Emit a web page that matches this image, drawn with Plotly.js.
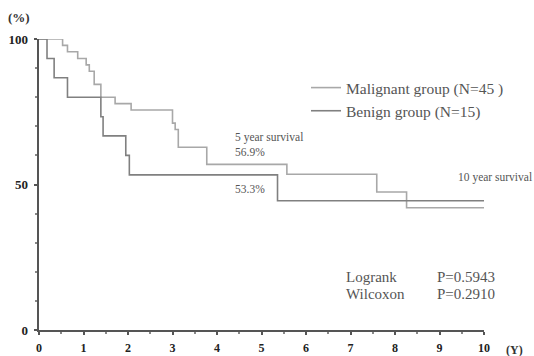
<!DOCTYPE html>
<html>
<head>
<meta charset="utf-8">
<script src="https://cdn.plot.ly/plotly-3.0.1.min.js"></script>
<style>html,body{margin:0;padding:0;background:#fff;}#chart{width:534px;height:356px;}</style>
</head>
<body>
<div id="chart"></div>
<script>
// Data (years, survival %)
const malignantTimes = [0, 0.53, 0.64, 0.87, 1.06, 1.13, 1.24, 1.39, 1.71, 2.07, 3.0, 3.06, 3.13, 3.77, 5.57, 7.59, 8.26, 10];
const malignantSurv  = [100, 97.8, 95.6, 93.3, 91.1, 88.9, 84.4, 80.0, 77.8, 75.6, 71.1, 68.9, 62.8, 56.9, 53.5, 47.4, 42.0, 42.0];
const benignTimes = [0, 0.18, 0.34, 0.64, 1.39, 1.44, 1.95, 2.03, 5.36, 10];
const benignSurv  = [100, 93.3, 86.7, 80.0, 73.3, 66.7, 60.0, 53.3, 44.4, 44.4];
const seriesNames = ['Malignant group (N=45 )', 'Benign group (N=15)'];
const xTicks = [0,1,2,3,4,5,6,7,8,9,10];
const yTicks = [0,50,100];

const serif = 'Liberation Serif, Times New Roman, serif';

const traces = [
  {x: malignantTimes, y: malignantSurv, name: seriesNames[0], mode: 'lines',
   line: {shape: 'hv', color: '#a8a8a8', width: 1.6}},
  {x: benignTimes, y: benignSurv, name: seriesNames[1], mode: 'lines',
   line: {shape: 'hv', color: '#808080', width: 1.6}}
];

const annFont = {family: serif, size: 11.5, color: '#555'};
const bigFont = {family: serif, size: 15, color: '#555'};

const layout = {
  width: 534, height: 356,
  margin: {l: 39, r: 50, t: 39, b: 26},
  paper_bgcolor: '#fff', plot_bgcolor: '#fff',
  showlegend: true,
  legend: {x: 0.6, y: 0.89, xanchor: 'left', yanchor: 'top',
           font: {family: serif, size: 15.5, color: '#555'},
           bgcolor: 'rgba(0,0,0,0)', tracegroupgap: 0, itemwidth: 30},
  xaxis: {range: [0, 10], tickvals: xTicks, ticktext: xTicks.map(String),
          showgrid: false, zeroline: false, showline: true, linecolor: '#555', linewidth: 2,
          ticks: 'outside', ticklen: 3, tickwidth: 2, tickcolor: '#555',
          minor: {dtick: 0.5, ticks: 'outside', ticklen: 2, tickcolor: '#888'},
          ticklabelstandoff: 3,
          tickfont: {family: serif, size: 12, color: '#222', weight: 'bold'}},
  yaxis: {range: [0, 100], tickvals: yTicks, ticktext: yTicks.map(String),
          showgrid: false, zeroline: false, showline: true, linecolor: '#555', linewidth: 2.5,
          ticks: 'outside', ticklen: 3, tickwidth: 2, tickcolor: '#555',
          minor: {dtick: 10, ticks: 'outside', ticklen: 2, tickcolor: '#888'},
          ticklabelstandoff: 3,
          tickfont: {family: serif, size: 13, color: '#222', weight: 'bold'}},
  annotations: [
    {xref: 'paper', yref: 'paper', x: -0.075, y: 1.075, text: '(%)', showarrow: false,
     xanchor: 'left', yanchor: 'middle', font: {family: serif, size: 13, color: '#333', weight: 'bold'}},
    {xref: 'paper', yref: 'paper', x: 1.045, y: -0.07, text: '(Y)', showarrow: false,
     xanchor: 'left', yanchor: 'middle', font: {family: serif, size: 12, color: '#333', weight: 'bold'}},
    {xref: 'x', yref: 'y', x: 4.35, y: 66.3, text: '5 year survival', showarrow: false,
     xanchor: 'left', yanchor: 'middle', font: annFont},
    {xref: 'x', yref: 'y', x: 4.35, y: 61.2, text: '56.9%', showarrow: false,
     xanchor: 'left', yanchor: 'middle', font: annFont},
    {xref: 'x', yref: 'y', x: 4.35, y: 48.3, text: '53.3%', showarrow: false,
     xanchor: 'left', yanchor: 'middle', font: annFont},
    {xref: 'x', yref: 'y', x: 9.38, y: 52.4, text: '10 year survival', showarrow: false,
     xanchor: 'left', yanchor: 'middle', font: annFont},
    {xref: 'x', yref: 'y', x: 10.8, y: 47.1, text: '44.4%', showarrow: false,
     xanchor: 'right', yanchor: 'middle', font: annFont},
    {xref: 'x', yref: 'y', x: 10.8, y: 42.0, text: '42.0%', showarrow: false,
     xanchor: 'right', yanchor: 'middle', font: annFont},
    {xref: 'x', yref: 'y', x: 6.85, y: 18.2, text: 'Logrank', showarrow: false,
     xanchor: 'left', yanchor: 'middle', font: bigFont},
    {xref: 'x', yref: 'y', x: 6.85, y: 12.4, text: 'Wilcoxon', showarrow: false,
     xanchor: 'left', yanchor: 'middle', font: bigFont},
    {xref: 'x', yref: 'y', x: 8.9, y: 18.2, text: 'P=0.5943', showarrow: false,
     xanchor: 'left', yanchor: 'middle', font: bigFont},
    {xref: 'x', yref: 'y', x: 8.9, y: 12.4, text: 'P=0.2910', showarrow: false,
     xanchor: 'left', yanchor: 'middle', font: bigFont}
  ]
};

Plotly.newPlot('chart', traces, layout, {displayModeBar: false, staticPlot: true});
</script>
</body>
</html>
